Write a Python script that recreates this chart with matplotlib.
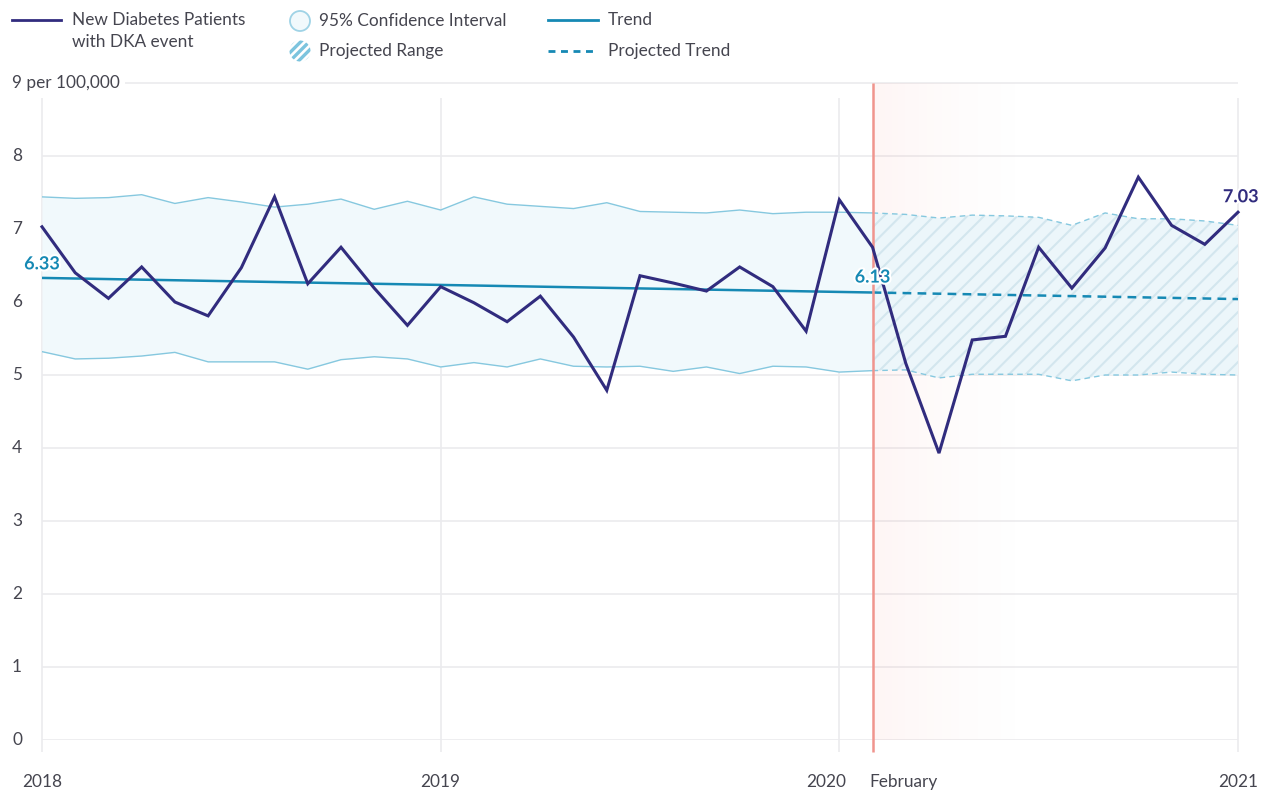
import numpy as np
import matplotlib
matplotlib.use('Agg')
import matplotlib.pyplot as plt
import matplotlib.patheffects as pe
from matplotlib.lines import Line2D
from matplotlib.patches import Circle

plt.rcParams['font.family'] = ['Lato', 'DejaVu Sans']

# monthly values, Jan 2018 .. Jan 2021
dka_rate = [7.03, 6.40, 6.05, 6.48, 6.00, 5.81, 6.47, 7.44, 6.25, 6.75, 6.19, 5.68,
            6.21, 5.99, 5.73, 6.08, 5.52, 4.79, 6.36, 6.26, 6.15, 6.48, 6.21, 5.60,
            7.40, 6.75, 5.16, 3.93, 5.48, 5.53, 6.75, 6.19, 6.74, 7.71, 7.05, 6.79, 7.23]
ci_upper = [7.44, 7.42, 7.43, 7.47, 7.35, 7.43, 7.37, 7.30, 7.34, 7.41, 7.27, 7.38,
            7.26, 7.44, 7.34, 7.31, 7.28, 7.36, 7.24, 7.23, 7.22, 7.26, 7.21, 7.23,
            7.23, 7.22, 7.20, 7.15, 7.19, 7.18, 7.16, 7.05, 7.22, 7.14, 7.14, 7.11, 7.05]
ci_lower = [5.32, 5.22, 5.23, 5.26, 5.31, 5.18, 5.18, 5.18, 5.08, 5.21, 5.25, 5.22,
            5.11, 5.17, 5.11, 5.22, 5.12, 5.11, 5.12, 5.05, 5.11, 5.02, 5.12, 5.11,
            5.04, 5.06, 5.07, 4.96, 5.01, 5.01, 5.01, 4.92, 5.00, 5.00, 5.04, 5.01, 5.00]
trend_months = [0, 25, 36]
trend_values = [6.33, 6.13, 6.04]
year_labels = ['2018', '2019', '2020', '2021']
year_months = [0, 12, 24, 36]
split = 25  # February 2020
label_start = '6.33'
label_split = '6.13'
label_end = '7.03'

navy = '#312c7e'
teal = '#1689b4'
ci_line = '#86c8df'
grid_c = '#ebebee'
txt = '#45454f'
fs = 12.4

months = np.arange(len(dka_rate))
lo = np.array(ci_lower)
hi = np.array(ci_upper)

W, H = 1270, 790
fig = plt.figure(figsize=(W / 100, H / 100), dpi=100)
ax = fig.add_axes([42 / W, (H - 740) / H, (1238 - 42) / W, (740 - 83) / H])
ax.set_xlim(0, 36)
ax.set_ylim(0, 9)
for s in ax.spines.values():
    s.set_visible(False)
ax.set_xticks([])
ax.set_yticks([])

# grid
for v in range(0, 9):
    ax.axhline(v, color=grid_c, lw=1.2, zorder=0)
ax.hlines(9, 2.5, 36, color=grid_c, lw=1.2, zorder=0, clip_on=False)
ax.vlines(year_months, -0.17, 8.8, color=grid_c, lw=1.2, zorder=0, clip_on=False)

# pink fade after February
grad = np.zeros((2, 200, 4))
grad[..., 0] = 0.95
grad[..., 1] = 0.45
grad[..., 2] = 0.42
grad[..., 3] = 0.07 * np.linspace(1.0, 0.0, 200) ** 1.5
ax.imshow(grad, extent=[split, split + 5, 0, 9], aspect='auto', zorder=0.5,
          interpolation='bilinear')

# confidence band
ax.fill_between(months[:split + 1], lo[:split + 1], hi[:split + 1],
                color='#f1f9fc', lw=0, zorder=1)
ax.plot(months[:split + 1], hi[:split + 1], color=ci_line, lw=1, zorder=2)
ax.plot(months[:split + 1], lo[:split + 1], color=ci_line, lw=1, zorder=2)
plt.rcParams['hatch.linewidth'] = 1.5
ax.fill_between(months[split:], lo[split:], hi[split:], facecolor='#ecf6fa',
                edgecolor='#d3e6ee', hatch='//', lw=0, zorder=1)
ax.plot(months[split:], hi[split:], color=ci_line, lw=1, ls=(0, (4, 3)), zorder=2)
ax.plot(months[split:], lo[split:], color=ci_line, lw=1, ls=(0, (4, 3)), zorder=2)

# trend
ax.plot(trend_months[:2], trend_values[:2], color=teal, lw=1.8, zorder=3,
        solid_capstyle='butt')
ax.plot(trend_months[1:], trend_values[1:], color=teal, lw=1.8, ls=(0, (3.5, 2.5)),
        zorder=3)

# February marker
ax.vlines(split, -0.17, 9, color='#f0948d', lw=1.8, zorder=4, clip_on=False)

# main series
ax.plot(months, dka_rate, color=navy, lw=2.2, zorder=5, clip_on=False,
        solid_joinstyle='miter')

# value labels
halo = [pe.withStroke(linewidth=3, foreground='white')]
ax.annotate(label_start, (0, trend_values[0]), xytext=(0, 4), textcoords='offset points',
            ha='center', va='bottom', color=teal, fontsize=13, fontweight='bold', zorder=6,
            path_effects=halo)
ax.annotate(label_split, (split, trend_values[1]), xytext=(0, 5), textcoords='offset points',
            ha='center', va='bottom', color=teal, fontsize=13, fontweight='bold', zorder=6,
            path_effects=halo)
ax.annotate(label_end, (36, dka_rate[-1]), xytext=(2, 5), textcoords='offset points',
            ha='center', va='bottom', color=navy, fontsize=13, fontweight='bold', zorder=6,
            path_effects=halo)

# y labels
for v in range(0, 9):
    ax.text(-0.9, v, str(v), ha='left', va='center', fontsize=fs, color=txt,
            clip_on=False)
ax.text(-0.9, 9, '9 per 100,000', ha='left', va='center', fontsize=fs, color=txt,
        clip_on=False)

# x labels
xl_y = -0.58
ax.text(year_months[0], xl_y, year_labels[0], ha='center', va='center', fontsize=fs, color=txt)
ax.text(year_months[1], xl_y, year_labels[1], ha='center', va='center', fontsize=fs, color=txt)
ax.text(year_months[2] + 0.2, xl_y, year_labels[2], ha='right', va='center', fontsize=fs, color=txt)
ax.text(split - 0.1, xl_y, 'February', ha='left', va='center', fontsize=fs, color=txt)
ax.text(year_months[3], xl_y, year_labels[3], ha='center', va='center', fontsize=fs, color=txt)

# legend drawn in pixel space
lg = fig.add_axes([0, 0, 1, 1])
lg.set_xlim(0, W)
lg.set_ylim(H, 0)
lg.axis('off')
lg.patch.set_alpha(0)
lg.add_line(Line2D([12, 61], [20, 20], color=navy, lw=2))
lg.text(72, 20, 'New Diabetes Patients', va='center', fontsize=fs, color=txt)
lg.text(72, 42, 'with DKA event', va='center', fontsize=fs, color=txt)
lg.add_patch(Circle((300, 21), 10, facecolor='#f1f9fc', edgecolor='#9fd3e6', lw=1.3))
lg.text(319, 21, '95% Confidence Interval', va='center', fontsize=fs, color=txt)
clip_c = Circle((300, 51), 10.5, facecolor='white', lw=0, transform=lg.transData)
lg.add_patch(clip_c)
for k in range(-2, 3):
    ln = Line2D([300 + 8.5 * k - 12, 300 + 8.5 * k + 12], [51 + 12, 51 - 12],
                color='#7cc4de', lw=2.4, solid_capstyle='butt')
    lg.add_line(ln)
    ln.set_clip_path(clip_c)
lg.text(319, 51, 'Projected Range', va='center', fontsize=fs, color=txt)
lg.add_line(Line2D([548, 598], [20, 20], color=teal, lw=2))
lg.text(608, 20, 'Trend', va='center', fontsize=fs, color=txt)
lg.add_line(Line2D([548, 598], [51, 51], color=teal, lw=2, ls=(0, (2.5, 2))))
lg.text(608, 51, 'Projected Trend', va='center', fontsize=fs, color=txt)

fig.savefig('out.png', dpi=100, facecolor='white')
